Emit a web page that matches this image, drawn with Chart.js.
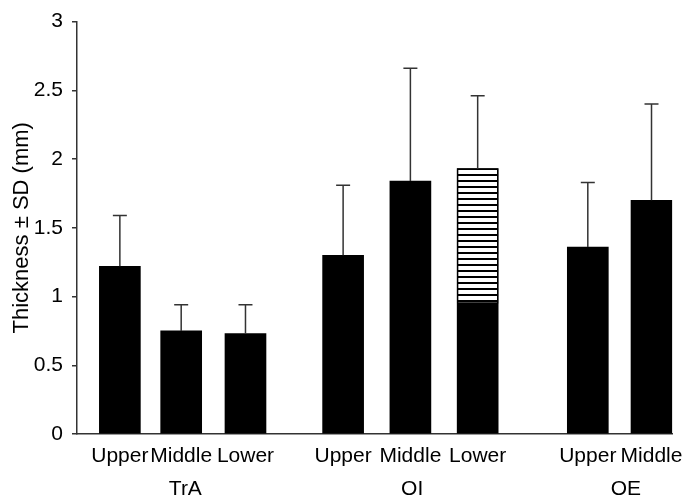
<!DOCTYPE html>
<html>
<head>
<meta charset="utf-8">
<script src="https://cdn.jsdelivr.net/npm/chart.js@4"></script>
<style>
  body { margin: 0; background: #fff; }
  #wrap { width: 693px; height: 500px; }
</style>
</head>
<body>
<div id="wrap"><canvas id="thickness-chart"></canvas></div>
<script>
// values
const barLabels = ['Upper', 'Middle', 'Lower', 'Upper', 'Middle', 'Lower', 'Upper', 'Middle'];
const xPos = [0.72, 1.75, 2.83, 4.47, 5.6, 6.73, 8.58, 9.65];
const thickness = [1.22, 0.75, 0.73, 1.30, 1.84, 1.93, 1.36, 1.70];
const sd = [0.37, 0.19, 0.21, 0.51, 0.82, 0.53, 0.47, 0.70];
const groupNames = ['TrA', 'OI', 'OE'];
const groupPos = [1.82, 5.63, 9.22];
const yTickLabels = ['0', '0.5', '1', '1.5', '2', '2.5', '3'];
// OI lower bar is hatched above this value
const stripedIndex = 5;
const stripedFrom = 0.95;

const fontFamily = '"Liberation Sans", Arial, Helvetica, sans-serif';

// horizontal stripe pattern
function makeStripes() {
    const c = document.createElement('canvas');
    c.width = 6;
    c.height = 6;
    const g = c.getContext('2d');
    g.fillStyle = '#fff';
    g.fillRect(0, 0, 6, 6);
    g.fillStyle = '#000';
    g.fillRect(0, 0, 6, 2);
    return g.createPattern(c, 'repeat');
}

// error bars (upper only) + group names under the axis
const extrasPlugin = {
    id: 'extras',
    afterDatasetsDraw(chart) {
        const ctx = chart.ctx;
        const yScale = chart.scales.y;
        const xScale = chart.scales.x;
        const meta = chart.getDatasetMeta(0);
        ctx.save();
        ctx.strokeStyle = '#333';
        ctx.lineWidth = 1.5;
        meta.data.forEach((bar, i) => {
            const yTop = yScale.getPixelForValue(thickness[i] + sd[i]);
            ctx.beginPath();
            ctx.moveTo(bar.x, bar.y);
            ctx.lineTo(bar.x, yTop);
            ctx.moveTo(bar.x - 7, yTop);
            ctx.lineTo(bar.x + 7, yTop);
            ctx.stroke();
        });
        ctx.fillStyle = '#000';
        ctx.font = '21px ' + fontFamily;
        ctx.textAlign = 'center';
        ctx.textBaseline = 'alphabetic';
        groupNames.forEach((name, i) => {
            ctx.fillText(name, xScale.getPixelForValue(groupPos[i]), chart.chartArea.bottom + 61);
        });
        ctx.restore();
    }
};

window.onload = function() {
    const ctx = document.getElementById('thickness-chart').getContext('2d');

    const chart = new Chart(ctx, {
        type: 'bar',
        data: {
            datasets: [{
                data: xPos.map((x, i) => ({ x: x, y: thickness[i] })),
                backgroundColor: '#000',
                borderWidth: 0,
                barThickness: 41,
                grouped: false,
                order: 2
            }, {
                data: [{ x: xPos[stripedIndex], y: [stripedFrom, thickness[stripedIndex]] }],
                backgroundColor: makeStripes(),
                borderColor: '#000',
                borderWidth: 1.5,
                borderSkipped: false,
                barThickness: 41,
                grouped: false,
                order: 1
            }]
        },
        options: {
            responsive: true,
            maintainAspectRatio: false,
            animation: false,
            layout: { padding: { top: 21, right: 16, left: 0, bottom: 0 } },
            plugins: {
                legend: { display: false },
                tooltip: { enabled: false }
            },
            scales: {
                x: {
                    type: 'linear',
                    min: 0,
                    max: 10,
                    offset: false,
                    grid: { display: false, drawTicks: false, offset: false },
                    border: { display: true, color: '#333', width: 1.5 },
                    afterBuildTicks(scale) {
                        scale.ticks = xPos.map(v => ({ value: v }));
                    },
                    afterFit(scale) { scale.height = 66; },
                    ticks: {
                        autoSkip: false,
                        maxRotation: 0,
                        padding: 10,
                        color: '#000',
                        font: { size: 21, family: fontFamily },
                        callback: (value, index) => barLabels[index]
                    }
                },
                y: {
                    min: 0,
                    max: 3,
                    afterFit(scale) { scale.width = 77; },
                    grid: { drawOnChartArea: false, drawTicks: true, tickLength: 5, color: '#333', lineWidth: 1.5 },
                    border: { display: true, color: '#333', width: 1.5 },
                    ticks: {
                        stepSize: 0.5,
                        padding: 9,
                        color: '#000',
                        font: { size: 21, family: fontFamily },
                        callback: (value, index) => yTickLabels[index]
                    },
                    title: {
                        display: true,
                        text: 'Thickness ± SD (mm)',
                        color: '#000',
                        padding: { top: 9, bottom: 0 },
                        font: { size: 22, family: fontFamily }
                    }
                }
            }
        },
        plugins: [extrasPlugin]
    });
};
</script>
</body>
</html>
